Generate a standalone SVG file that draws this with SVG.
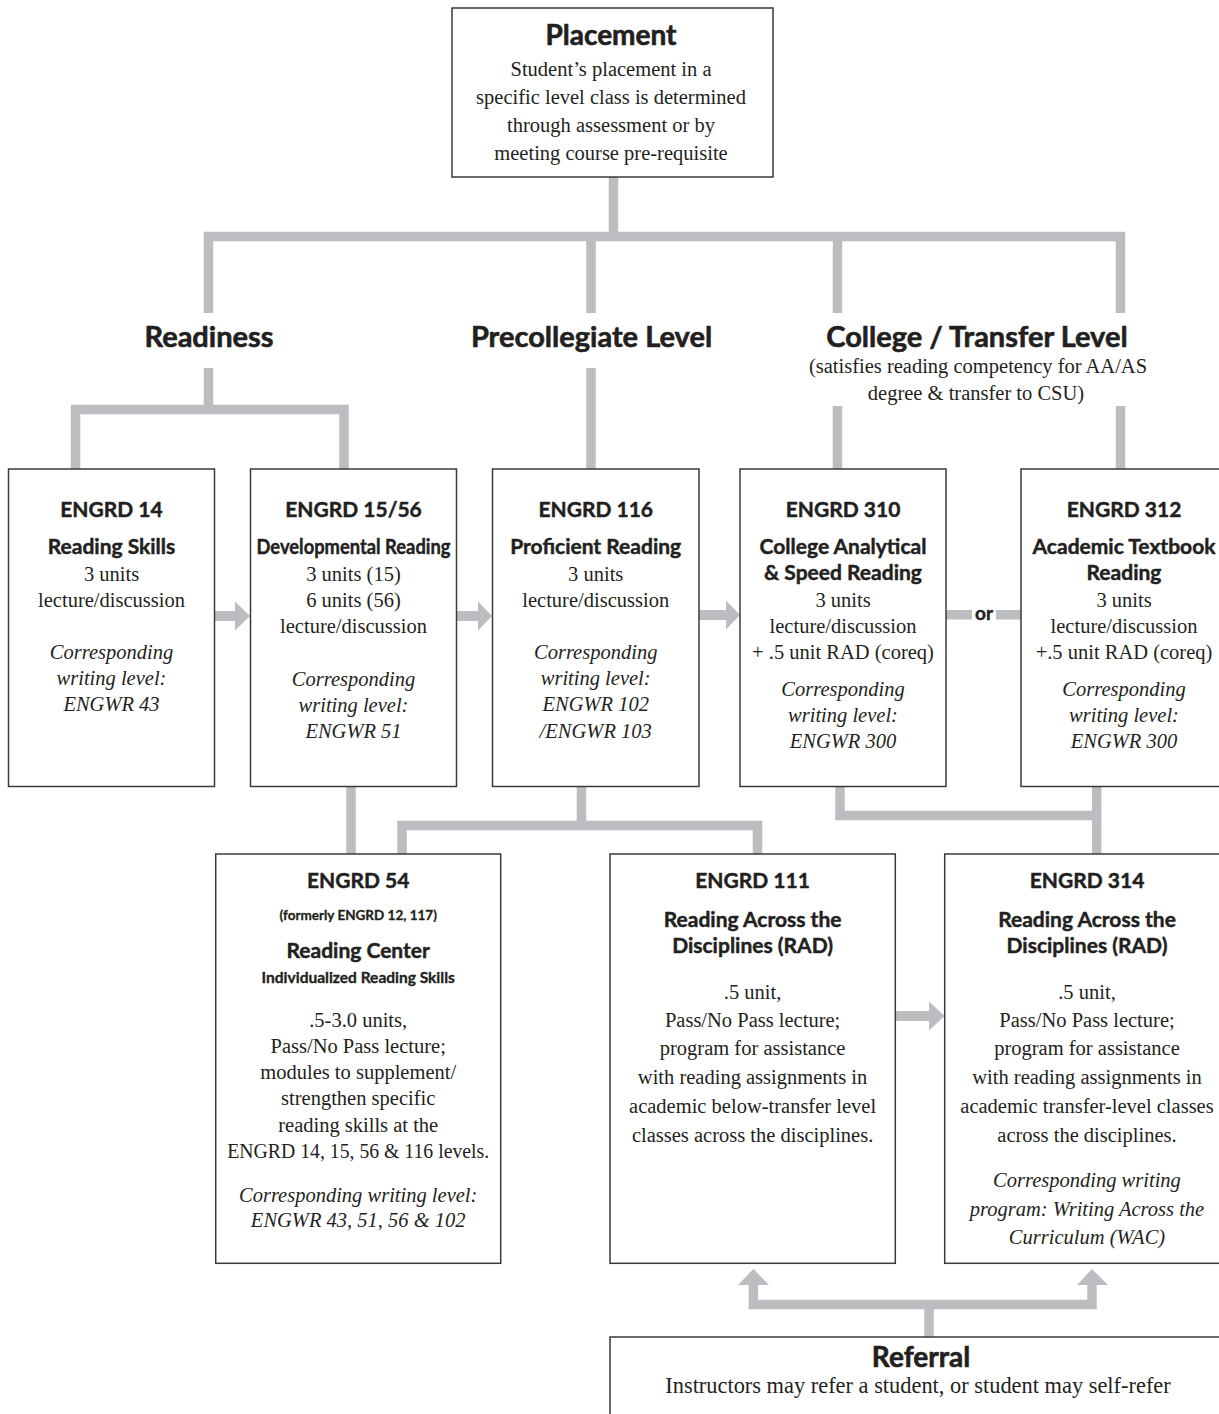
<svg xmlns="http://www.w3.org/2000/svg" width="1219" height="1414" viewBox="0 0 1219 1414">
<style>
.box{fill:#fff;stroke:#3a3a3a;stroke-width:1.5}
.con{fill:none;stroke:#bcbdc0;stroke-width:9.5;stroke-linejoin:miter;stroke-linecap:butt}
.arr{fill:#bcbdc0;stroke:none}
text{fill:#231f20;text-anchor:middle}
.h1,.h2,.h3,.h4,.or{font-family:Lato,"Open Sans",sans-serif;font-weight:700;stroke:#231f20;stroke-linejoin:round}
.h1{font-size:29px;stroke-width:0.6px}
.h2{font-size:21px;stroke-width:0.45px}
.h3{font-size:15.5px;stroke-width:0.35px}
.h4{font-size:13.5px;stroke-width:0.3px}
.or{font-size:19px;stroke-width:0.4px}
.b{font-family:"Liberation Serif","Times New Roman",serif;font-size:20.5px}
.i{font-family:"Liberation Serif","Times New Roman",serif;font-size:20.5px;font-style:italic}
</style>

<g id="connectors">
  <path class="con" d="M613.5 177 V236.5"/>
  <path class="con" d="M208.5 313 V236.5 H1120.5 V313"/>
  <path class="con" d="M591 236.5 V313"/>
  <path class="con" d="M837.5 236.5 V313"/>
  <path class="con" d="M208.5 368 V409.5"/>
  <path class="con" d="M75.5 469 V409.5 H344 V469"/>
  <path class="con" d="M591 368 V469"/>
  <path class="con" d="M837.5 406 V469"/>
  <path class="con" d="M1120.5 406 V469"/>
  <path class="con" d="M351 786 V854"/>
  <path class="con" d="M581.5 786 V825.5"/>
  <path class="con" d="M402 854 V825.5 H757.5 V854"/>
  <path class="con" d="M840 786 V815.5 H1096.7"/>
  <path class="con" d="M1096.7 786 V854"/>
  <path class="arr" d="M214.5 611 H235 V601.5 L250 616 L235 630.5 V621 H214.5 Z"/>
  <path class="arr" d="M456.7 611 H478 V601.5 L492 616 L478 630.5 V621 H456.7 Z"/>
  <path class="arr" d="M699 610 H726 V600.5 L740 615 L726 629.5 V620 H699 Z"/>
  <rect class="arr" x="946" y="610" width="26" height="9.5"/>
  <rect class="arr" x="996" y="610" width="25" height="9.5"/>
  <text class="or" x="984" y="620">or</text>
  <path class="arr" d="M895.3 1011 H929 V1001.5 L944.7 1016 L929 1030.5 V1021 H895.3 Z"/>
  <path class="con" d="M753.4 1284 V1304.5 H1092 V1284"/>
  <path class="con" d="M929 1304.5 V1337"/>
  <path class="arr" d="M738 1285 L753.4 1269 L769 1285 Z"/>
  <path class="arr" d="M1077 1285 L1092 1269 L1108 1285 Z"/>
</g>

<g id="placement">
  <rect class="box" x="452" y="8" width="321" height="169"/>
  <text class="h1" x="611" y="45" style="font-size:28px">Placement</text>
  <text class="b" x="611" y="76">Student’s placement in a</text>
  <text class="b" x="611" y="104">specific level class is determined</text>
  <text class="b" x="611" y="132">through assessment or by</text>
  <text class="b" x="611" y="160">meeting course pre-requisite</text>
</g>

<g id="readiness">
  <text class="h1" x="209" y="347">Readiness</text>
</g>
<g id="precollegiate">
  <text class="h1" x="591.5" y="347">Precollegiate Level</text>
</g>
<g id="college">
  <text class="h1" x="977" y="347">College / Transfer Level</text>
  <text class="b" x="978" y="373">(satisfies reading competency for AA/AS</text>
  <text class="b" x="976" y="400">degree &amp; transfer to CSU)</text>
</g>

<g id="engrd14">
  <rect class="box" x="8.5" y="469" width="206" height="317.5"/>
  <text class="h2" x="111.5" y="517">ENGRD 14</text>
  <text class="h2" x="111.5" y="554">Reading Skills</text>
  <text class="b" x="111.5" y="581">3 units</text>
  <text class="b" x="111.5" y="607">lecture/discussion</text>
  <text class="i" x="111.5" y="659">Corresponding</text>
  <text class="i" x="111.5" y="685">writing level:</text>
  <text class="i" x="111.5" y="711">ENGWR 43</text>
</g>

<g id="engrd15-56">
  <rect class="box" x="250.5" y="469" width="206" height="317.5"/>
  <text class="h2" x="353.5" y="517">ENGRD 15/56</text>
  <text class="h2" x="353.5" y="554" textLength="194" lengthAdjust="spacingAndGlyphs">Developmental Reading</text>
  <text class="b" x="353.5" y="581">3 units (15)</text>
  <text class="b" x="353.5" y="607">6 units (56)</text>
  <text class="b" x="353.5" y="633">lecture/discussion</text>
  <text class="i" x="353.5" y="686">Corresponding</text>
  <text class="i" x="353.5" y="712">writing level:</text>
  <text class="i" x="353.5" y="738">ENGWR 51</text>
</g>

<g id="engrd116">
  <rect class="box" x="492.5" y="469" width="206.5" height="317.5"/>
  <text class="h2" x="595.7" y="517">ENGRD 116</text>
  <text class="h2" x="595.7" y="554">Proficient Reading</text>
  <text class="b" x="595.7" y="581">3 units</text>
  <text class="b" x="595.7" y="607">lecture/discussion</text>
  <text class="i" x="595.7" y="659">Corresponding</text>
  <text class="i" x="595.7" y="685">writing level:</text>
  <text class="i" x="595.7" y="711">ENGWR 102</text>
  <text class="i" x="595.7" y="738">/ENGWR 103</text>
</g>

<g id="engrd310">
  <rect class="box" x="740" y="469" width="206" height="317.5"/>
  <text class="h2" x="843" y="517">ENGRD 310</text>
  <text class="h2" x="843" y="554">College Analytical</text>
  <text class="h2" x="843" y="580">&amp; Speed Reading</text>
  <text class="b" x="843" y="607">3 units</text>
  <text class="b" x="843" y="633">lecture/discussion</text>
  <text class="b" x="843" y="659">+ .5 unit RAD (coreq)</text>
  <text class="i" x="843" y="696">Corresponding</text>
  <text class="i" x="843" y="722">writing level:</text>
  <text class="i" x="843" y="748">ENGWR 300</text>
</g>

<g id="engrd312">
  <rect class="box" x="1021" y="469" width="212" height="317.5"/>
  <text class="h2" x="1124" y="517">ENGRD 312</text>
  <text class="h2" x="1124" y="554">Academic Textbook</text>
  <text class="h2" x="1124" y="580">Reading</text>
  <text class="b" x="1124" y="607">3 units</text>
  <text class="b" x="1124" y="633">lecture/discussion</text>
  <text class="b" x="1124" y="659">+.5 unit RAD (coreq)</text>
  <text class="i" x="1124" y="696">Corresponding</text>
  <text class="i" x="1124" y="722">writing level:</text>
  <text class="i" x="1124" y="748">ENGWR 300</text>
</g>

<g id="engrd54">
  <rect class="box" x="215.7" y="854" width="285" height="409.3"/>
  <text class="h2" x="358.2" y="888">ENGRD 54</text>
  <text class="h4" x="358.2" y="920">(formerly ENGRD 12, 117)</text>
  <text class="h2" x="358.2" y="958">Reading Center</text>
  <text class="h3" x="358.2" y="983">Individualized Reading Skills</text>
  <text class="b" x="358.2" y="1027">.5-3.0 units,</text>
  <text class="b" x="358.2" y="1053">Pass/No Pass lecture;</text>
  <text class="b" x="358.2" y="1079">modules to supplement/</text>
  <text class="b" x="358.2" y="1105">strengthen specific</text>
  <text class="b" x="358.2" y="1132">reading skills at the</text>
  <text class="b" x="358.2" y="1158" textLength="262" lengthAdjust="spacingAndGlyphs">ENGRD 14, 15, 56 &amp; 116 levels.</text>
  <text class="i" x="358.2" y="1202">Corresponding writing level:</text>
  <text class="i" x="358.2" y="1227">ENGWR 43, 51, 56 &amp; 102</text>
</g>

<g id="engrd111">
  <rect class="box" x="610" y="854" width="285.3" height="409.3"/>
  <text class="h2" x="752.6" y="888">ENGRD 111</text>
  <text class="h2" x="752.6" y="927">Reading Across the</text>
  <text class="h2" x="752.6" y="953">Disciplines (RAD)</text>
  <text class="b" x="752.6" y="999">.5 unit,</text>
  <text class="b" x="752.6" y="1027">Pass/No Pass lecture;</text>
  <text class="b" x="752.6" y="1055">program for assistance</text>
  <text class="b" x="752.6" y="1084">with reading assignments in</text>
  <text class="b" x="752.6" y="1113">academic below-transfer level</text>
  <text class="b" x="752.6" y="1142">classes across the disciplines.</text>
</g>

<g id="engrd314">
  <rect class="box" x="944.7" y="854" width="285" height="409.3"/>
  <text class="h2" x="1087" y="888">ENGRD 314</text>
  <text class="h2" x="1087" y="927">Reading Across the</text>
  <text class="h2" x="1087" y="953">Disciplines (RAD)</text>
  <text class="b" x="1087" y="999">.5 unit,</text>
  <text class="b" x="1087" y="1027">Pass/No Pass lecture;</text>
  <text class="b" x="1087" y="1055">program for assistance</text>
  <text class="b" x="1087" y="1084">with reading assignments in</text>
  <text class="b" x="1087" y="1113">academic transfer-level classes</text>
  <text class="b" x="1087" y="1142">across the disciplines.</text>
  <text class="i" x="1087" y="1187">Corresponding writing</text>
  <text class="i" x="1087" y="1216">program: Writing Across the</text>
  <text class="i" x="1087" y="1244">Curriculum (WAC)</text>
</g>

<g id="referral">
  <rect class="box" x="610" y="1337" width="620" height="100"/>
  <text class="h1" x="921" y="1367" style="font-size:28px">Referral</text>
  <text class="b" x="918" y="1393" style="font-size:22.4px">Instructors may refer a student, or student may self-refer</text>
</g>
</svg>
